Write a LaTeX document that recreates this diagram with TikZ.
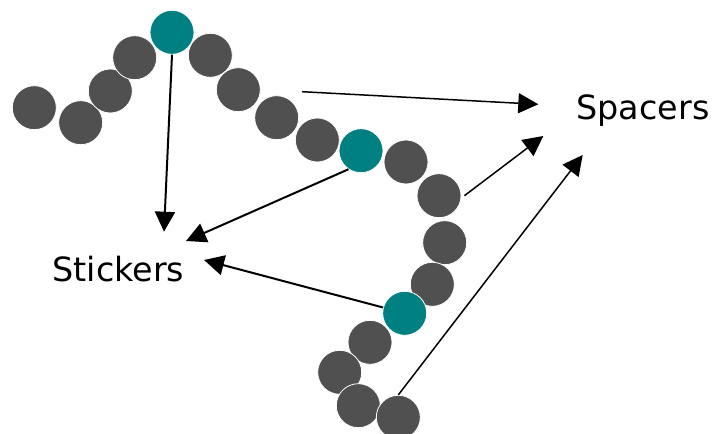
\documentclass[tikz,border=0pt]{standalone}
\usepackage{fontspec}
\setmainfont{DejaVu Sans}
\usetikzlibrary{arrows.meta}
\definecolor{bead}{RGB}{80,80,80}
\definecolor{stick}{RGB}{0,128,128}
\tikzset{
  beadc/.style={circle,fill=bead,draw=white,line width=0.8bp,minimum size=44bp,inner sep=0pt},
  stickc/.style={beadc,fill=stick},
  lbl/.style={font=\fontsize{33.5}{38}\selectfont,inner sep=0pt,anchor=base},
  arr/.style={-{Triangle[length=20bp,width=20bp]},line width=2bp},
  arrthin/.style={arr,line width=1.5bp},
}
\begin{document}
\begin{tikzpicture}[x=1bp,y=-1bp]
\useasboundingbox (0,0) rectangle (712,434);
\node[beadc] (c1) at (34.3,107.7) {};
\node[beadc] (c2) at (80.7,122.7) {};
\node[beadc] (c3) at (110.3,91) {};
\node[beadc] (c4) at (134.7,57.7) {};
\node[stickc] (c5) at (172,32.3) {};
\node[beadc] (c6) at (210.3,55.3) {};
\node[beadc] (c7) at (238.3,89.7) {};
\node[beadc] (c8) at (276.7,117.7) {};
\node[beadc] (c9) at (317.3,140) {};
\node[stickc] (c10) at (361,150.7) {};
\node[beadc] (c11) at (406,162) {};
\node[beadc] (c12) at (439,195.7) {};
\node[beadc] (c13) at (444.7,242.7) {};
\node[beadc] (c14) at (432.3,284.3) {};
\node[stickc] (c15) at (404.7,313.3) {};
\node[beadc] (c16) at (370,342.3) {};
\node[beadc] (c17) at (339.7,372.3) {};
\node[beadc] (c18) at (358.3,405.7) {};
\node[beadc] (c19) at (398.3,417.3) {};

\node[lbl] (spacers) at (643,120) {Spacers};
\node[lbl] (stickers) at (118.5,281.5) {Stickers};

\coordinate (t1) at (164,231.7);
\coordinate (t2) at (186,241);
\coordinate (t3) at (204,260);
\coordinate (s4) at (302,91.7);
\coordinate (t4) at (538.3,104.3);
\coordinate (t5) at (543.3,136);
\coordinate (t6) at (582.7,155);

\draw[arr] (c5.south) -- (t1);
\draw[arr] (c10.236) -- (t2);
\draw[arr] (c15.165) -- (t3);
\draw[arrthin] (s4) -- (t4);
\draw[arrthin] ([xshift=3bp]c12.east) -- (t5);
\draw[arrthin] (c19.north) -- (t6);
\end{tikzpicture}
\end{document}
